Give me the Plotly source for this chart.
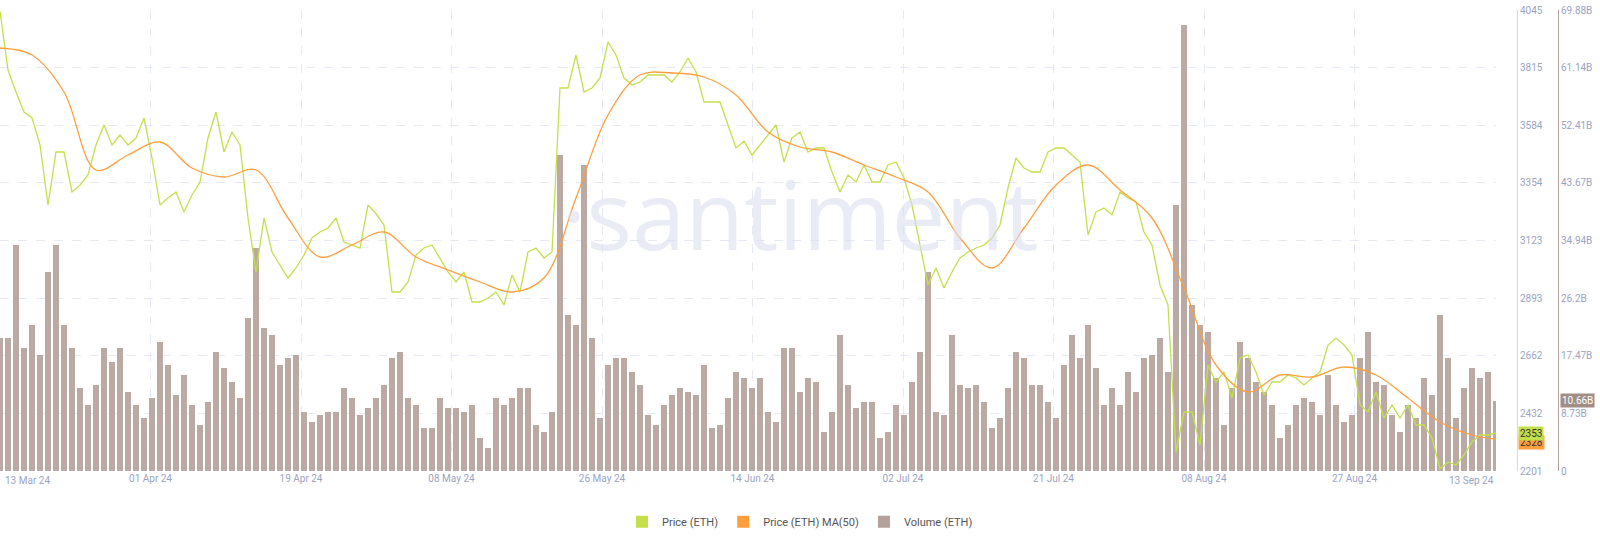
import plotly.graph_objects as go
import pandas as pd

start, end = "2024-03-13", "2024-09-13"

price = [4040, 3805, 3717, 3637, 3613, 3505, 3265, 3477, 3477, 3317, 3345, 3385, 3505, 3585, 3505, 3545,
         3505, 3533, 3613, 3453, 3265, 3293, 3317, 3237, 3305, 3357, 3533, 3637, 3477, 3557, 3505, 3213,
         2997, 3213, 3077, 3025, 2973, 3013, 3065, 3133, 3157, 3173, 3213, 3117, 3105, 3093, 3265,
         3230, 3185, 2917, 2917, 2957, 3065, 3093, 3105, 3053, 2997, 2957, 2997, 2877, 2877, 2893, 2917,
         2865, 2985, 2917, 3077, 3093, 3053, 3077, 3733, 3733, 3865, 3717, 3733, 3773, 3917, 3865, 3773,
         3745, 3757, 3785, 3785, 3785, 3757, 3797, 3853, 3797, 3677, 3677, 3677, 3585, 3493,
         3520, 3465, 3505, 3545, 3585, 3437, 3533, 3557, 3477, 3493, 3493, 3397, 3317, 3385, 3357, 3425,
         3357, 3357, 3425, 3437, 3373, 3265, 3105, 2945, 3013, 2933, 2997, 3053, 3077, 3093, 3105, 3133,
         3185, 3333, 3453, 3413, 3397, 3397, 3477, 3493, 3493, 3465, 3437, 3145, 3237, 3253, 3225,
         3317, 3293, 3277, 3157, 3105, 2945, 2865, 2277, 2437, 2437, 2305, 2625, 2557, 2597, 2493, 2653,
         2665, 2597, 2505, 2557, 2557, 2585, 2573, 2545, 2573, 2597, 2705, 2733, 2705, 2665, 2465, 2437,
         2517, 2413, 2465, 2413, 2465, 2385, 2385, 2333, 2210, 2237, 2225, 2265, 2317, 2345, 2345, 2353]

ma50 = [3893, 3865, 3717, 3405, 3465, 3517, 3413, 3377, 3405, 3213, 3057, 3105,
        3157, 3057, 3005, 2957, 2917, 2973, 3293, 3625, 3785, 3793, 3777, 3705,
        3557, 3497, 3477, 3425, 3377, 3317, 3133, 3013, 3173, 3345, 3425, 3325,
        3213, 2933, 2625, 2517, 2585, 2577, 2617, 2585, 2493, 2397, 2345, 2328]

volume_b = [20.2, 20.2, 34.3, 18.6, 22.1, 17.6, 30.2, 34.3, 22.1, 18.6, 12.6, 10.0, 13.0, 18.6, 16.5, 18.6,
            12.0, 10.0, 8.0, 11.1, 19.6, 16.1, 11.5, 14.6, 10.0, 7.0, 10.5, 18.0, 15.6, 13.5, 11.1, 23.2,
            33.8, 21.7, 20.6, 16.1, 17.1, 17.6, 8.9, 7.4, 8.5, 8.9, 8.9, 12.6, 11.1, 8.5, 9.6,
            11.1, 13.0, 17.1, 18.0, 11.1, 10.0, 6.5, 6.5, 11.1, 9.6, 9.6, 8.9, 10.0, 5.0, 3.5, 11.1,
            10.0, 11.1, 12.6, 12.6, 7.0, 5.9, 8.9, 47.9, 23.6, 22.1, 46.4, 20.2, 8.0, 16.1, 17.1, 17.1,
            15.0, 13.0, 8.5, 7.0, 10.0, 11.5, 12.6, 12.0, 11.5, 16.1, 6.5, 7.0, 11.1, 15.0, 14.1,
            12.6, 14.1, 8.9, 7.4, 18.6, 18.6, 12.0, 14.1, 13.5, 5.9, 8.9, 20.6, 13.0, 9.6, 10.5, 10.5,
            5.0, 5.9, 10.0, 8.5, 13.5, 18.0, 30.2, 8.9, 8.5, 20.6, 13.0, 12.6, 13.0, 10.5, 6.5, 8.0,
            12.6, 18.0, 17.1, 13.0, 13.0, 10.5, 8.0, 16.1, 20.6, 17.1, 22.1, 15.6, 10.0, 12.6,
            10.0, 15.0, 12.0, 17.1, 17.6, 20.2, 15.0, 40.3, 67.6, 25.2, 22.1, 21.1, 14.1, 7.0, 12.6, 19.6,
            17.1, 13.5, 12.0, 10.0, 5.0, 7.0, 10.0, 11.1, 10.5, 8.5, 14.6, 10.0, 7.4, 8.5, 17.1, 21.1,
            13.5, 13.0, 8.5, 5.9, 10.0, 8.0, 14.1, 11.5, 23.6, 17.1, 8.0, 12.6, 15.6, 14.1, 15.0, 10.66]

tick_labels = ["13 Mar 24", "01 Apr 24", "19 Apr 24", "08 May 24", "26 May 24", "14 Jun 24",
               "02 Jul 24", "21 Jul 24", "08 Aug 24", "27 Aug 24", "13 Sep 24"]
price_ticks = [2201, 2432, 2662, 2893, 3123, 3354, 3584, 3815, 4045]
vol_tick_text = ["0", "8.73B", "17.47B", "26.2B", "34.94B", "43.67B", "52.41B", "61.14B", "69.88B"]

dates = pd.date_range(start, end, periods=len(price))
ma_dates = list(dates[::4]) + [dates[-1]]
vol = [v * 1e9 for v in volume_b]
t0, t1 = pd.Timestamp(start), pd.Timestamp(end)
span = t1 - t0
tick_dates = [t0 + span * (i * 150.5 / 1496) for i in range(1, 10)]

GREEN, ORANGE, BROWN = "#c3e04c", "#ff9e3d", "#b3a19a"
GRID = "#e6e8f3"
TXT = "#9aa3bf"

fig = go.Figure()
fig.add_trace(go.Bar(x=dates, y=vol, yaxis="y", marker=dict(color=BROWN, line=dict(width=0)),
                     width=span.total_seconds() * 1000 / len(price) * 0.8, showlegend=False, opacity=0.9))
fig.add_trace(go.Scatter(x=dates, y=price, yaxis="y2", mode="lines", line=dict(color=GREEN, width=1.3),
                         showlegend=False))
fig.add_trace(go.Scatter(x=ma_dates, y=ma50, yaxis="y2", mode="lines", line=dict(color=ORANGE, width=1.3, shape="spline"),
                         showlegend=False))
for name, c in [("Price (ETH)", GREEN), ("Price (ETH) MA(50)", ORANGE), ("Volume (ETH)", BROWN)]:
    fig.add_trace(go.Scatter(x=[None], y=[None], mode="markers", name=name, yaxis="y2",
                             marker=dict(symbol="square", size=9, color=c)))

fig.update_layout(
    width=1600, height=541, paper_bgcolor="white", plot_bgcolor="white",
    margin=dict(l=0, r=0, t=10, b=70), bargap=0,
    font=dict(family="Roboto, sans-serif", size=10, color=TXT),
    xaxis=dict(domain=[0, 1496 / 1600], range=[t0, t1], tickvals=tick_dates, ticktext=tick_labels[1:10],
               showgrid=True, gridcolor=GRID, griddash="dash", showline=False, zeroline=False,
               ticks="", tickfont=dict(size=10, color=TXT)),
    yaxis=dict(range=[0, 69.88e9], tickvals=[float(t.rstrip("B") or 0) * 1e9 for t in vol_tick_text],
               ticktext=vol_tick_text, side="right", anchor="free", position=1558 / 1600,
               showgrid=False, zeroline=False, showline=True, linecolor="#b3a19a", linewidth=1,
               tickfont=dict(size=10, color=TXT)),
    yaxis2=dict(range=[2201, 4045], tickvals=price_ticks, overlaying="y", side="right", anchor="free",
                position=1517 / 1600, showgrid=True, gridcolor=GRID, griddash="dash", zeroline=False,
                showline=True, linecolor="#d9ec7a", linewidth=1, tickfont=dict(size=10, color=TXT)),
    legend=dict(orientation="h", x=0.5, xanchor="center", y=-0.11, yanchor="middle",
                font=dict(size=11, color="#555"), itemsizing="constant"),
)
fig.add_annotation(text="·santiment", xref="paper", yref="paper", x=0.5, y=0.56,
                   showarrow=False, font=dict(size=96, color="rgba(218,221,238,0.6)", family="Open Sans"))
fig.add_annotation(text="13 Mar 24", xref="paper", yref="paper", x=0.002, xanchor="left", y=-0.005,
                   yanchor="top", showarrow=False, font=dict(size=10, color=TXT))
fig.add_annotation(text="13 Sep 24", xref="x", yref="paper", x=t1, xanchor="right", y=-0.005,
                   yanchor="top", showarrow=False, font=dict(size=10, color=TXT))
fig.add_annotation(text=str(ma50[-1]), xref="paper", yref="y2", x=1518 / 1600, y=2317, xanchor="left",
                   showarrow=False, bgcolor=ORANGE, font=dict(size=10, color="#333"), borderpad=1)
fig.add_annotation(text=str(price[-1]), xref="paper", yref="y2", x=1518 / 1600, y=2353, xanchor="left",
                   showarrow=False, bgcolor=GREEN, font=dict(size=10, color="#333"), borderpad=1)
fig.add_annotation(text=f"{volume_b[-1]}B", xref="paper", yref="y", x=1560 / 1600, y=vol[-1], xanchor="left",
                   showarrow=False, bgcolor="#a08d86", font=dict(size=10, color="white"), borderpad=1)

fig.write_html("out.html", config={"displayModeBar": False},
               post_script="document.body.style.margin='0';document.body.style.overflow='hidden';")
